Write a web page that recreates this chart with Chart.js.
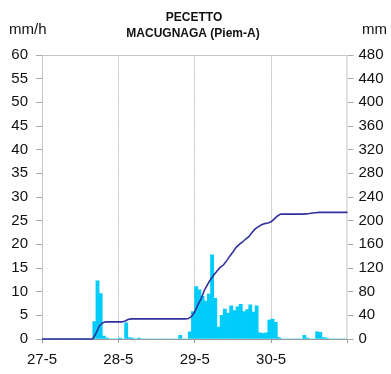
<!DOCTYPE html>
<html><head><meta charset="utf-8">
<script src="https://cdn.jsdelivr.net/npm/chart.js@4/dist/chart.umd.min.js"></script>
<style>html,body{margin:0;padding:0;background:#fff}#wrap{width:391px;height:374px}</style>
</head><body><div id="wrap"><canvas id="c" width="391" height="374"></canvas></div>
<script>
const titleLines = ['PECETTO', 'MACUGNAGA (Piem-A)'];
const leftUnit = 'mm/h';
const rightUnit = 'mm';
const dayLabels = ['27-5', '28-5', '29-5', '30-5', ''];

// hourly rainfall intensity (mm/h), one value per hour from 27-5 00:00
const rain = [
  0,0,0,0,0,0,0,0,
  0,0,0,0,0,0,0,0,
  3.7,12.3,9.6,0.6,0.2,0,0,0,
  0.2,0,3.4,0.3,0.2,0,0.2,0,
  0,0,0,0,0,0,0,0,
  0,0,0,0.8,0,0,1.5,5.8,
  11.1,10.4,9.0,8.0,9.5,17.8,8.6,2.5,
  5.0,6.3,5.5,7.0,6.0,6.8,7.3,5.8,
  6.2,7.2,5.7,7.0,1.3,1.2,1.3,4.0,
  4.2,3.5,0.3,0,0,0,0,0,
  0,0,0.8,0.2,0,0,1.5,1.4,
  0.3,0.2,0,0,0,0,0,0
];

// cumulative rainfall (mm) at each hour mark
const cumul = [
  0,0,0,0,0,0,0,0,
  0,0,0,0,0,0,0,0,
  0.5,10,22,27,29,29,29,29,
  29,29,30,33,34,34,34,34,
  34,34,34,34,34,34,34,34,
  34,34,34,34,34,34,34.5,38,
  46,58,68,82,92,101,108,115,
  121,125,132,140,147,155,160,164,
  169,173,180,186,190,193,195,196,
  198,203,208,211,211,211,211,211,
  211,211,211,211.5,212,213,213.5,214,
  214,214,214,214,214,214,214,214,
  214
];

const framePlugin = {
  id: 'frame',
  beforeDatasetsDraw(chart) {
    const a = chart.chartArea, ctx = chart.ctx;
    ctx.save();
    ctx.strokeStyle = '#c4c4c4';
    ctx.lineWidth = 1;
    ctx.strokeRect(a.left + 0.5, a.top + 0.5, a.right - a.left - 1, a.bottom - a.top);
    ctx.strokeStyle = '#999';
    ctx.beginPath();
    ctx.moveTo(a.left, a.bottom + 0.5);
    ctx.lineTo(a.right, a.bottom + 0.5);
    ctx.stroke();
    ctx.restore();
  }
};

const textPlugin = {
  id: 'texts',
  afterDraw(chart) {
    const ctx = chart.ctx;
    ctx.save();
    ctx.fillStyle = '#111';
    ctx.textAlign = 'center';
    ctx.textBaseline = 'alphabetic';
    ctx.font = 'bold 12px "Liberation Sans", Arial, sans-serif';
    ctx.fillText(titleLines[0], 194, 21);
    ctx.fillText(titleLines[1], 193, 37);
    ctx.font = '15px "Liberation Sans", Arial, sans-serif';
    ctx.textAlign = 'left';
    ctx.fillText(leftUnit, 9, 34);
    ctx.fillText(rightUnit, 362, 34);
    ctx.restore();
  }
};

const tickFont = { family: '"Liberation Sans", Arial, sans-serif', size: 15 };

new Chart(document.getElementById('c'), {
  data: {
    datasets: [
      {
        type: 'line',
        data: cumul.map((v, i) => ({ x: i, y: v })),
        xAxisID: 'x', yAxisID: 'y2',
        borderColor: '#30309a', borderWidth: 1.6,
        pointRadius: 0, tension: 0, order: 0, clip: 3
      },
      {
        type: 'bar',
        data: rain.map((v, i) => ({ x: i + 0.45, y: v })),
        xAxisID: 'x', yAxisID: 'y',
        backgroundColor: '#00ccfa', borderWidth: 0,
        barPercentage: 1, categoryPercentage: 1, order: 1
      }
    ]
  },
  options: {
    responsive: false, animation: false, devicePixelRatio: 1,
    layout: { padding: { top: 55, left: 0, right: 0, bottom: 0 } },
    plugins: { legend: { display: false }, tooltip: { enabled: false }, title: { display: false } },
    scales: {
      x: {
        type: 'linear', position: 'bottom', min: 0, max: 96, offset: false,
        ticks: {
          stepSize: 24, autoSkip: false, maxRotation: 0, padding: 8,
          color: '#111', font: tickFont,
          callback: (v) => dayLabels[Math.round(v / 24)] ?? ''
        },
        grid: {
          offset: false,
          color: (c) => (c.tick && (c.tick.value === 0 || c.tick.value === 96)) ? 'rgba(0,0,0,0)' : '#d2d2d2',
          tickColor: '#999', tickLength: 4, lineWidth: 1
        },
        border: { display: false },
        afterFit(s) { s.height = 35; }
      },
      y: {
        position: 'left', min: 0, max: 60,
        ticks: { stepSize: 5, padding: 8, color: '#111', font: tickFont },
        grid: { color: 'rgba(0,0,0,0.05)', tickColor: '#aaa', tickLength: 6 },
        border: { display: false, dash: [1, 3] },
        afterFit(s) { s.width = 42; }
      },
      y2: {
        position: 'right', min: 0, max: 480,
        ticks: { stepSize: 40, padding: 5, color: '#111', font: tickFont },
        grid: { drawOnChartArea: false, tickColor: '#aaa', tickLength: 6 },
        border: { display: false },
        afterFit(s) { s.width = 43.5; }
      }
    }
  },
  plugins: [framePlugin, textPlugin]
});
</script>
</body></html>
